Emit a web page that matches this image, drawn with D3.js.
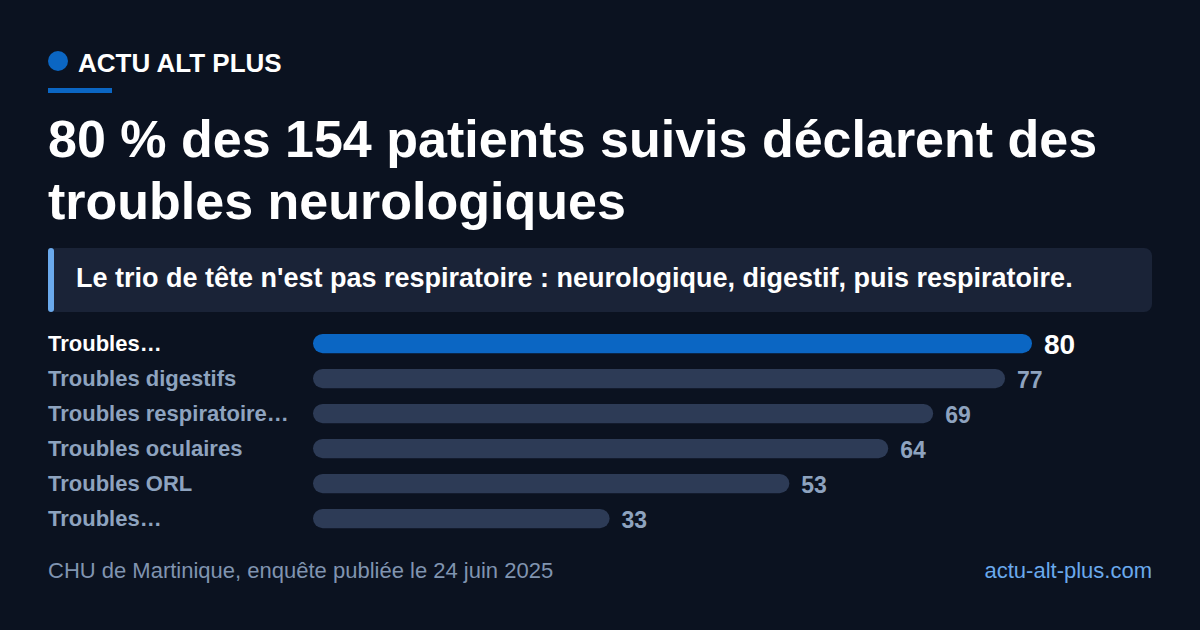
<!DOCTYPE html>
<html>
<head>
<meta charset="utf-8">
<script src="https://cdn.jsdelivr.net/npm/d3@7"></script>
<style>
  html, body { margin: 0; padding: 0; background: #0b1220; }
  svg { display: block; font-family: "Liberation Sans", Arial, sans-serif; }
</style>
</head>
<body>
<svg></svg>
<script>
// chart data
let categories = ["Troubles…", "Troubles digestifs", "Troubles respiratoire…", "Troubles oculaires", "Troubles ORL", "Troubles…"]
let values = [80, 77, 69, 64, 53, 33]
let highlight = 0

let width = 1200
let height = 630

let svg = d3.select("svg")
  .attr("width", width)
  .attr("height", height)

svg.append("rect").attr("width", width).attr("height", height).attr("fill", "#0b1220")

// brand header
svg.append("circle").attr("cx", 58).attr("cy", 61).attr("r", 10).attr("fill", "#0b66c3")
svg.append("text").attr("x", 78).attr("y", 72)
  .attr("fill", "#ffffff").attr("font-size", 26).attr("font-weight", "bold")
  .text("ACTU ALT PLUS")
svg.append("rect").attr("x", 48).attr("y", 88).attr("width", 64).attr("height", 5).attr("fill", "#0b66c3")

// title
let title = ["80 % des 154 patients suivis déclarent des", "troubles neurologiques"]
svg.selectAll(".title").data(title).enter().append("text")
  .attr("class", "title")
  .attr("x", 48)
  .attr("y", (d, i) => 157 + i * 62)
  .attr("fill", "#ffffff").attr("font-size", 52).attr("font-weight", "bold")
  .text(d => d)

// subtitle box
svg.append("rect").attr("x", 48).attr("y", 248).attr("width", 1104).attr("height", 64)
  .attr("rx", 8).attr("fill", "#1a2337")
svg.append("rect").attr("x", 48).attr("y", 248).attr("width", 6).attr("height", 64)
  .attr("rx", 3).attr("fill", "#6aa9ec")
svg.append("text").attr("x", 76).attr("y", 287)
  .attr("fill", "#ffffff").attr("font-size", 27).attr("font-weight", "bold")
  .text("Le trio de tête n'est pas respiratoire : neurologique, digestif, puis respiratoire.")

// scales
let xScale = d3.scaleLinear().domain([0, 80]).range([313, 1032])
let yScale = d3.scaleBand().domain(d3.range(categories.length)).range([326, 536]).paddingInner(0.45).paddingOuter(0.225)

let rows = svg.selectAll(".row").data(values).enter().append("g").attr("class", "row")

rows.append("text")
  .attr("x", 48)
  .attr("y", (d, i) => yScale(i) + yScale.bandwidth() / 2 + 7)
  .attr("fill", (d, i) => i === highlight ? "#ffffff" : "#8ea3bf")
  .attr("font-size", 22).attr("font-weight", "bold")
  .text((d, i) => categories[i])

rows.append("rect")
  .attr("x", xScale(0))
  .attr("y", (d, i) => yScale(i))
  .attr("width", d => xScale(d) - xScale(0))
  .attr("height", yScale.bandwidth())
  .attr("rx", yScale.bandwidth() / 2)
  .attr("fill", (d, i) => i === highlight ? "#0b66c3" : "#2d3b56")

rows.append("text")
  .attr("x", d => xScale(d) + 12)
  .attr("y", (d, i) => yScale(i) + yScale.bandwidth() / 2 + (i === highlight ? 10 : 9))
  .attr("fill", (d, i) => i === highlight ? "#ffffff" : "#8ea3bf")
  .attr("font-size", (d, i) => i === highlight ? 28 : 23).attr("font-weight", "bold")
  .text(d => d)

// footer
svg.append("text").attr("x", 48).attr("y", 578)
  .attr("fill", "#8094b0").attr("font-size", 22)
  .text("CHU de Martinique, enquête publiée le 24 juin 2025")
svg.append("text").attr("x", 1152).attr("y", 578).attr("text-anchor", "end")
  .attr("fill", "#6aa9ec").attr("font-size", 22)
  .text("actu-alt-plus.com")
</script>
</body>
</html>
